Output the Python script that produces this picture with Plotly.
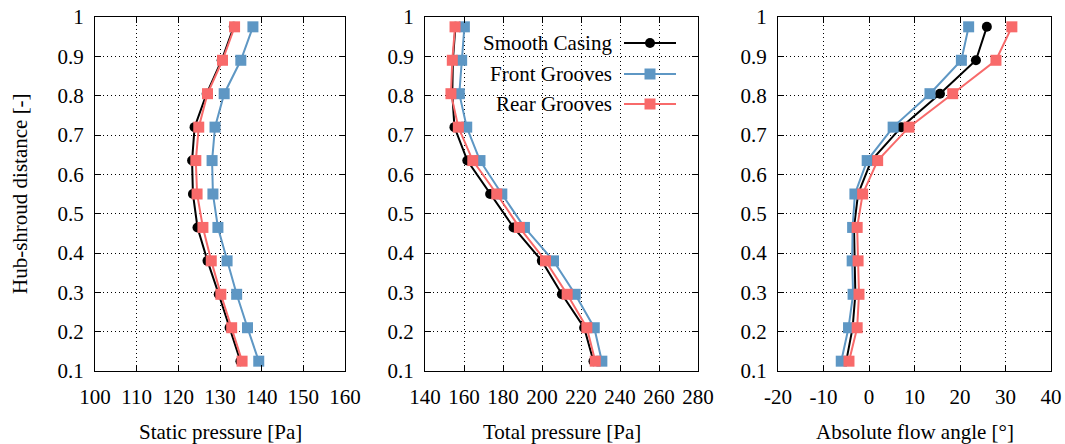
import plotly.graph_objects as go

W, H = 1065, 444

heights = [0.975, 0.89, 0.805, 0.72, 0.635, 0.55, 0.465, 0.38, 0.295, 0.21, 0.125]

static_smooth = [133.3, 130.4, 126.8, 123.9, 123.3, 123.5, 124.6, 127.0, 129.7, 132.3, 134.9]
static_front = [137.9, 135.0, 131.0, 128.8, 128.1, 128.3, 129.5, 131.7, 134.0, 136.6, 139.3]
static_rear = [133.5, 130.6, 127.0, 124.9, 124.2, 124.5, 125.9, 127.9, 130.2, 132.8, 135.3]

total_smooth = [155.6, 154.3, 154.0, 155.1, 161.7, 173.4, 185.4, 199.9, 210.2, 221.6, 226.4]
total_front = [160.2, 158.8, 157.6, 161.4, 168.2, 179.4, 191.0, 205.9, 217.0, 226.8, 230.7]
total_rear = [155.4, 154.0, 153.3, 157.1, 164.5, 176.8, 188.4, 201.8, 212.9, 223.0, 227.3]

angle_smooth = [25.9, 23.5, 15.6, 7.1, 0.5, -2.4, -3.3, -3.1, -3.0, -3.6, -5.0]
angle_front = [21.9, 20.3, 13.4, 5.3, -0.4, -3.1, -3.6, -3.7, -3.5, -4.5, -6.1]
angle_rear = [31.4, 27.9, 18.4, 8.8, 1.9, -1.4, -2.6, -2.4, -2.2, -2.6, -4.4]

series_names = ["Smooth Casing", "Front Grooves", "Rear Grooves"]
colors = ["#000000", "#5e97c4", "#f86a6a"]
symbols = ["circle", "square", "square"]
msizes = [10, 11, 11]

y_ticks = [0.1, 0.2, 0.3, 0.4, 0.5, 0.6, 0.7, 0.8, 0.9, 1.0]
y_ticktext = ["0.1", "0.2", "0.3", "0.4", "0.5", "0.6", "0.7", "0.8", "0.9", "1"]

x1_ticks = [100, 110, 120, 130, 140, 150, 160]
x2_ticks = [140, 160, 180, 200, 220, 240, 260, 280]
x3_ticks = [-20, -10, 0, 10, 20, 30, 40]
x3_ticktext = ["-20", "-10", "0", "10", "20", "30", "40"]

x_titles = ["Static pressure [Pa]", "Total pressure [Pa]", "Absolute flow angle [°]"]
y_title = "Hub-shroud distance [-]"

FONT = "Liberation Serif"
FS = 21

# panel pixel boxes (left, right)
px = [(95, 345), (425, 698), (778, 1051)]
top_px, bot_px = 17, 371

fig = go.Figure()

panels = [
    (static_smooth, static_front, static_rear),
    (total_smooth, total_front, total_rear),
    (angle_smooth, angle_front, angle_rear),
]

for i, data in enumerate(panels):
    xa = "x" if i == 0 else f"x{i+1}"
    ya = "y" if i == 0 else f"y{i+1}"
    for k in range(3):
        fig.add_trace(go.Scatter(
            x=data[k], y=heights, mode="lines+markers",
            name=series_names[k], showlegend=False,
            line=dict(color=colors[k], width=2),
            marker=dict(symbol=symbols[k], size=msizes[k], color=colors[k], line=dict(width=0)),
            xaxis=xa, yaxis=ya,
        ))

axis_common = dict(
    showline=True, linecolor="black", linewidth=1.2, mirror="ticks",
    ticks="inside", ticklen=6, tickcolor="black", tickwidth=1,
    showgrid=True, gridcolor="black", gridwidth=1, griddash="1px,3px",
    zeroline=False, automargin=False,
    tickfont=dict(family=FONT, size=FS, color="black"),
)

ydom = [1 - bot_px / H, 1 - top_px / H]
xranges = [[100, 160], [140, 280], [-20, 40]]
xtickvals = [x1_ticks, x2_ticks, x3_ticks]
xticktexts = [[str(v) for v in x1_ticks], [str(v) for v in x2_ticks], x3_ticktext]

layout = dict(
    width=W, height=H,
    margin=dict(l=0, r=0, t=0, b=0),
    paper_bgcolor="white", plot_bgcolor="white",
    font=dict(family=FONT, size=FS, color="black"),
    showlegend=False,
)

for i in range(3):
    xk = "xaxis" if i == 0 else f"xaxis{i+1}"
    yk = "yaxis" if i == 0 else f"yaxis{i+1}"
    ya = "y" if i == 0 else f"y{i+1}"
    xa = "x" if i == 0 else f"x{i+1}"
    layout[xk] = dict(axis_common, domain=[px[i][0] / W, px[i][1] / W], range=xranges[i],
                      tickvals=xtickvals[i], ticktext=xticktexts[i], anchor=ya,
                      ticklabelstandoff=7)
    layout[yk] = dict(axis_common, domain=ydom, range=[0.1, 1.0],
                      tickvals=y_ticks, ticktext=y_ticktext, anchor=xa,
                      ticklabelstandoff=6)

fig.update_layout(**layout)

annotations = []
for i in range(3):
    annotations.append(dict(
        text=x_titles[i], x=(px[i][0] + px[i][1]) / 2 / W, y=1 - 432 / H,
        xref="paper", yref="paper", showarrow=False, xanchor="center", yanchor="middle",
        font=dict(family=FONT, size=FS, color="black"),
    ))
annotations.append(dict(
    text=y_title, x=20 / W, y=1 - 194 / H, xref="paper", yref="paper",
    showarrow=False, textangle=-90, xanchor="center", yanchor="middle",
    font=dict(family=FONT, size=FS, color="black"),
))

# custom legend (text right-aligned, key to the right), inside panel 2
leg_rows = [43, 74, 104]
shapes = []
for k in range(3):
    yp = 1 - leg_rows[k] / H
    annotations.append(dict(
        text=series_names[k], x=614 / W, y=yp, xref="paper", yref="paper",
        showarrow=False, xanchor="right", yanchor="middle",
        font=dict(family=FONT, size=FS, color="black"),
    ))
    shapes.append(dict(type="line", xref="paper", yref="paper",
                       x0=624 / W, x1=676 / W, y0=yp, y1=yp,
                       line=dict(color=colors[k], width=2)))
    r = 5 if k == 0 else 5.5
    shapes.append(dict(type="circle" if k == 0 else "rect", xref="paper", yref="paper",
                       x0=(650 - r) / W, x1=(650 + r) / W, y0=yp - r / H, y1=yp + r / H,
                       fillcolor=colors[k], line=dict(width=0)))

fig.update_layout(annotations=annotations, shapes=shapes)

fig.write_html("out.html", config={"displayModeBar": False},
               post_script="document.body.style.margin='0';")
